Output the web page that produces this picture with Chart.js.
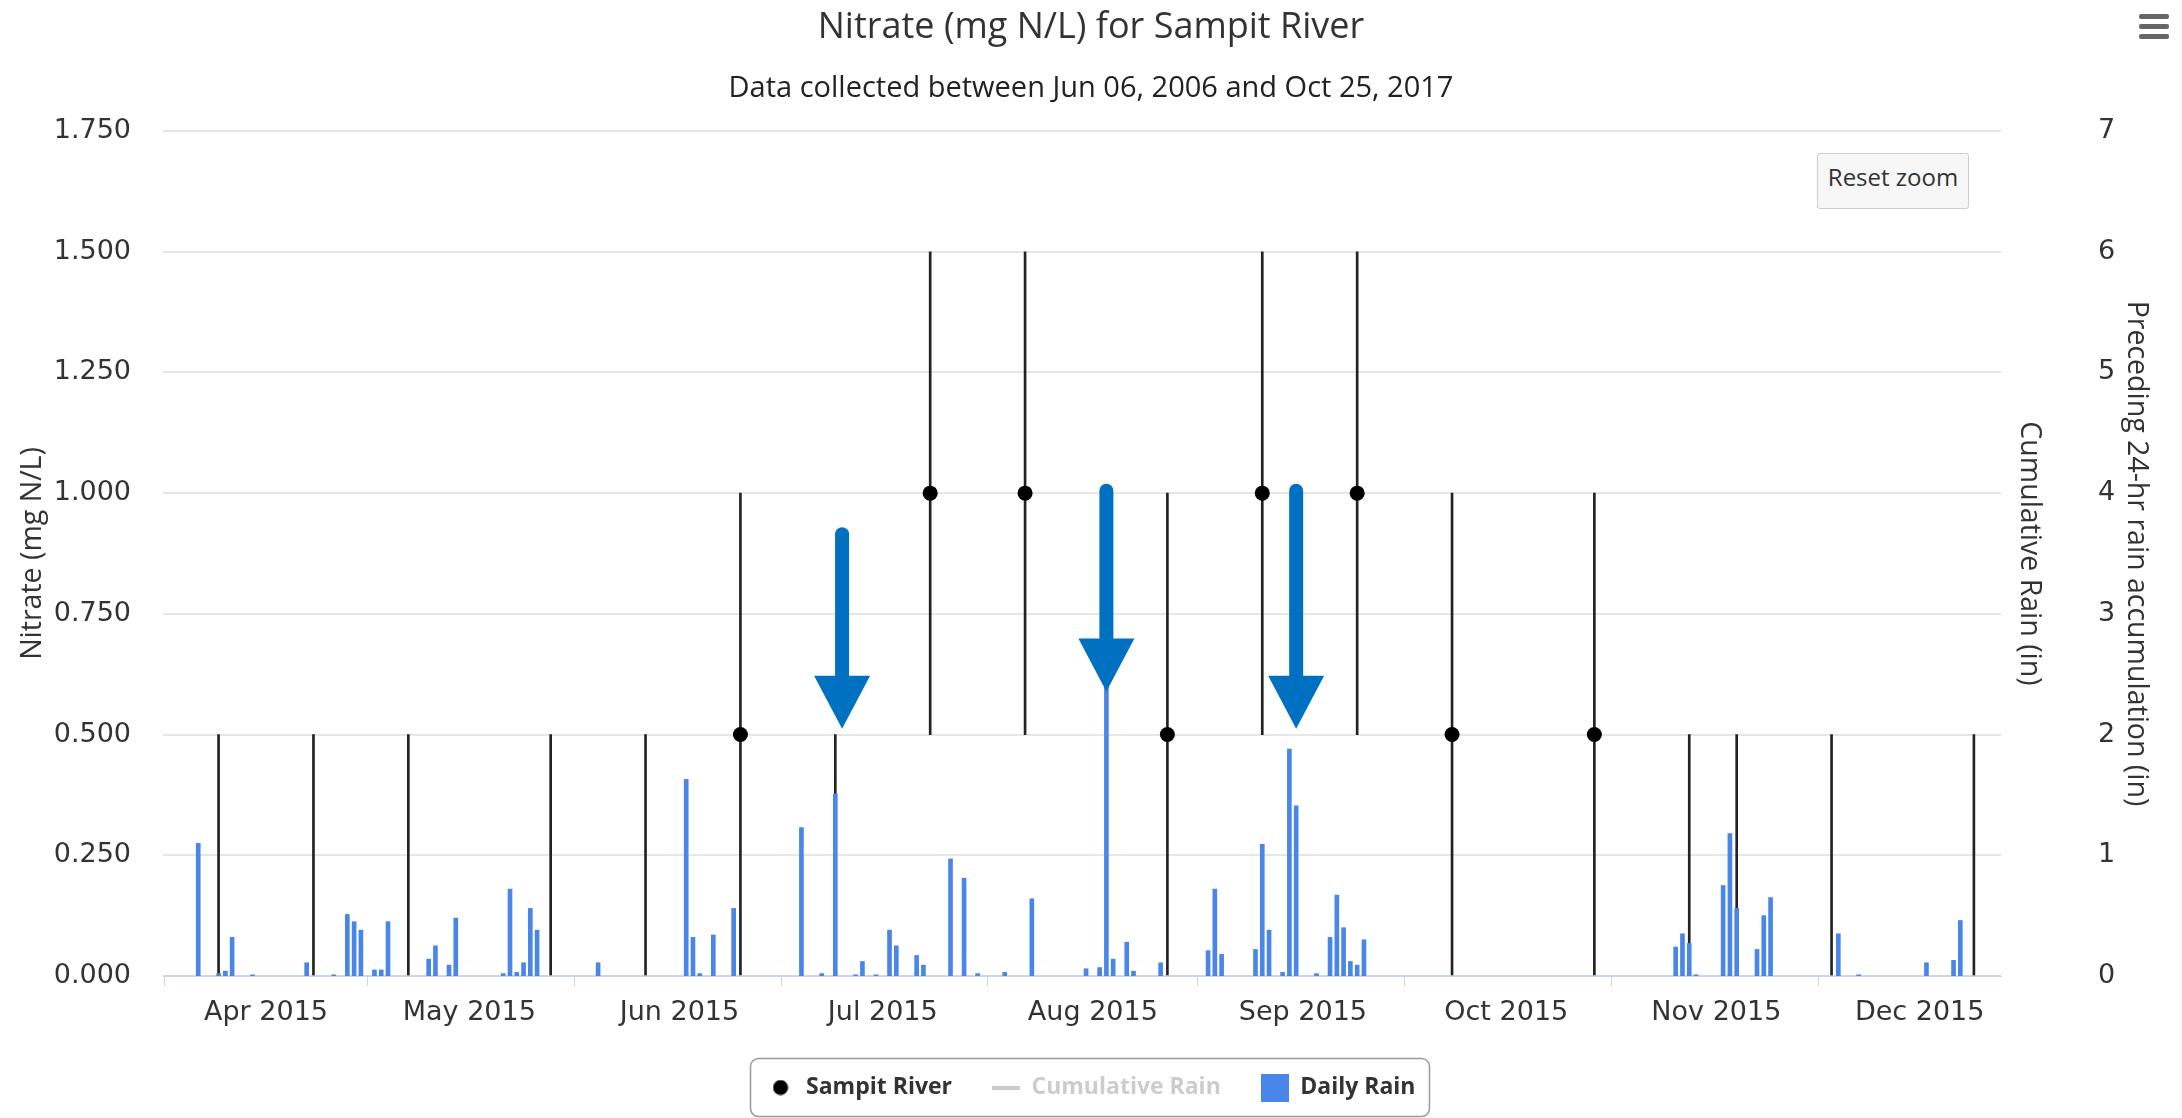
<!DOCTYPE html>
<html lang="en">
<head>
<meta charset="UTF-8">
<title>Nitrate (mg N/L) for Sampit River</title>
<script src="https://cdn.jsdelivr.net/npm/chart.js"></script>
<style>
  html, body { margin: 0; padding: 0; background: #fff; }
  .wrap { position: relative; width: 2182px; height: 1118px; }
  .reset {
    position: absolute; left: 1817px; top: 153px; width: 150px; height: 54px;
    background: #f7f7f7; border: 1px solid #cccccc; border-radius: 3px;
    font: 24px "Open Sans", sans-serif; color: #333; line-height: 46px; text-align: center;
  }
  .menu { position: absolute; left: 2139px; top: 14px; width: 30px; }
  .menu span { display: block; height: 5px; margin-bottom: 5px; background: #666; border-radius: 2px; }
</style>
</head>
<body>
<div class="wrap">
  <canvas id="chart"></canvas>
  <div class="reset">Reset zoom</div>
  <div class="menu"><span></span><span></span><span></span></div>
</div>
<script>
// sampling dates (biweekly) and nitrate results
const sampleDates = ['2015-03-25', '2015-04-08', '2015-04-22', '2015-05-13', '2015-05-27', '2015-06-10',
  '2015-06-24', '2015-07-08', '2015-07-22', '2015-08-12', '2015-08-26', '2015-09-09', '2015-09-23',
  '2015-10-14', '2015-10-28', '2015-11-04', '2015-11-18', '2015-12-09'];
const nitrate = [null, null, null, null, null, 0.5, null, 1.0, 1.0, 0.5, 1.0, 1.0, 0.5, 0.5, null, null, null, null];
const nitrateLow = [0, 0, 0, 0, 0, 0, 0, 0.5, 0.5, 0, 0.5, 0.5, 0, 0, 0, 0, 0, 0];
const nitrateHigh = [0.5, 0.5, 0.5, 0.5, 0.5, 1.0, 0.5, 1.5, 1.5, 1.0, 1.5, 1.5, 1.0, 1.0, 0.5, 0.5, 0.5, 0.5];

// daily rain (in)
const rainDates = ['2015-03-22', '2015-03-25', '2015-03-26', '2015-03-27', '2015-03-30', '2015-04-07',
  '2015-04-11', '2015-04-13', '2015-04-14', '2015-04-15', '2015-04-17', '2015-04-18', '2015-04-19',
  '2015-04-25', '2015-04-26', '2015-04-28', '2015-04-29', '2015-05-06', '2015-05-07', '2015-05-08',
  '2015-05-09', '2015-05-10', '2015-05-11', '2015-05-20', '2015-06-02', '2015-06-03', '2015-06-04',
  '2015-06-06', '2015-06-09', '2015-06-19', '2015-06-22', '2015-06-24', '2015-06-27', '2015-06-28',
  '2015-06-30', '2015-07-02', '2015-07-03', '2015-07-06', '2015-07-07', '2015-07-11', '2015-07-13',
  '2015-07-15', '2015-07-19', '2015-07-23', '2015-07-31', '2015-08-02', '2015-08-03', '2015-08-04',
  '2015-08-06', '2015-08-07', '2015-08-11', '2015-08-18', '2015-08-19', '2015-08-20', '2015-08-25',
  '2015-08-26', '2015-08-27', '2015-08-29', '2015-08-30', '2015-08-31', '2015-09-03', '2015-09-05',
  '2015-09-06', '2015-09-07', '2015-09-08', '2015-09-09', '2015-09-10', '2015-10-26', '2015-10-27',
  '2015-10-28', '2015-10-29', '2015-11-02', '2015-11-03', '2015-11-04', '2015-11-07', '2015-11-08',
  '2015-11-09', '2015-11-19', '2015-11-22', '2015-12-02', '2015-12-06', '2015-12-07'];
const rainInches = [1.10, 0.02, 0.04, 0.32, 0.01, 0.11,
  0.01, 0.51, 0.45, 0.38, 0.05, 0.05, 0.45,
  0.14, 0.25, 0.09, 0.48, 0.02, 0.72, 0.03,
  0.11, 0.56, 0.38, 0.11, 1.63, 0.32, 0.02,
  0.34, 0.56, 1.23, 0.02, 1.51, 0.01, 0.12,
  0.01, 0.38, 0.25, 0.17, 0.09, 0.97, 0.81,
  0.02, 0.03, 0.64, 0.06, 0.07, 2.45, 0.14,
  0.28, 0.04, 0.11, 0.21, 0.72, 0.18, 0.22,
  1.09, 0.38, 0.03, 1.88, 1.41, 0.02, 0.32,
  0.67, 0.40, 0.12, 0.09, 0.30, 0.24, 0.35,
  0.27, 0.01, 0.75, 1.18, 0.56, 0.22, 0.50,
  0.65, 0.35, 0.01, 0.11, 0.13, 0.46];

const monthTicks = ['2015-04-01', '2015-05-01', '2015-06-01', '2015-07-01', '2015-08-01',
  '2015-09-01', '2015-10-01', '2015-11-01', '2015-12-01'];
const monthLabels = ['Apr 2015', 'May 2015', 'Jun 2015', 'Jul 2015', 'Aug 2015',
  'Sep 2015', 'Oct 2015', 'Nov 2015', 'Dec 2015'];

// highlight arrows (mg N/L)
const arrowDates = ['2015-06-25', '2015-08-03', '2015-08-31'];
const arrowFrom = [0.915, 1.005, 1.005];
const arrowTo = [0.512, 0.589, 0.512];

// days since Apr 1 2015 (no date adapter offline)
const BASE = Date.UTC(2015, 3, 1);
function dayOf(s) {
  const p = s.split('-').map(Number);
  return (Date.UTC(p[0], p[1] - 1, p[2]) - BASE) / 86400000;
}

function icon(kind) {
  const c = document.createElement('canvas');
  const g = c.getContext('2d');
  if (kind === 'dot') {
    c.width = 16; c.height = 16;
    g.fillStyle = '#000';
    g.beginPath(); g.arc(8, 8, 7.5, 0, Math.PI * 2); g.fill();
  } else if (kind === 'line') {
    c.width = 28; c.height = 4;
    g.fillStyle = '#cccccc'; g.fillRect(0, 0, 28, 4);
  } else {
    c.width = 28; c.height = 28;
    g.fillStyle = '#4a86e8'; g.fillRect(0, 0, 28, 28);
  }
  return c;
}

const arrowPlugin = {
  id: 'arrows',
  afterDatasetsDraw(chart) {
    const ctx = chart.ctx, x = chart.scales.x, y = chart.scales.yNit;
    ctx.save();
    ctx.fillStyle = '#0070c0';
    ctx.strokeStyle = '#0070c0';
    arrowDates.forEach((d, i) => {
      const px = x.getPixelForValue(dayOf(d));
      const top = y.getPixelForValue(arrowFrom[i]);
      const tip = y.getPixelForValue(arrowTo[i]);
      ctx.lineWidth = 14;
      ctx.lineCap = 'round';
      ctx.beginPath();
      ctx.moveTo(px, top);
      ctx.lineTo(px, tip - 48);
      ctx.stroke();
      ctx.beginPath();
      ctx.moveTo(px - 28, tip - 53);
      ctx.lineTo(px + 28, tip - 53);
      ctx.lineTo(px, tip);
      ctx.closePath();
      ctx.fill();
    });
    ctx.restore();
  }
};

const legendBox = {
  id: 'legendBox',
  afterDraw(chart) {
    const boxes = chart.legend.legendHitBoxes;
    if (!boxes || !boxes.length) return;
    const ctx = chart.ctx;
    const l = Math.min(...boxes.map(b => b.left)) - 16;
    const r = Math.max(...boxes.map(b => b.left + b.width)) + 14;
    const cy = boxes[0].top + boxes[0].height / 2;
    ctx.save();
    ctx.strokeStyle = '#999';
    ctx.lineWidth = 1.5;
    ctx.beginPath();
    ctx.roundRect(l, cy - 29, r - l, 58, 8);
    ctx.stroke();
    ctx.restore();
  }
};

const tickFont = { family: 'DejaVu Sans', size: 27 };
const titleFont = { family: 'Open Sans', size: 28.5 };

new Chart(document.getElementById('chart'), {
  type: 'bar',
  data: {
    datasets: [
      {
        type: 'line',
        label: 'Sampit River',
        data: sampleDates.map((d, i) => ({ x: dayOf(d), y: nitrate[i] })),
        yAxisID: 'yNit',
        showLine: false,
        pointRadius: 7.5,
        pointBackgroundColor: '#000',
        pointBorderWidth: 0,
        order: 0
      },
      {
        type: 'line',
        label: 'Cumulative Rain',
        data: [],
        yAxisID: 'yCum',
        hidden: true,
        borderColor: '#cccccc',
        order: 2
      },
      {
        label: 'Daily Rain',
        data: rainDates.map((d, i) => ({ x: dayOf(d), y: rainInches[i] })),
        yAxisID: 'yRain',
        backgroundColor: '#4a86e8',
        barThickness: 4,
        grouped: false,
        order: 1
      },
      {
        label: 'range',
        data: sampleDates.map((d, i) => ({ x: dayOf(d), y: [nitrateLow[i], nitrateHigh[i]] })),
        yAxisID: 'yNit',
        backgroundColor: '#222',
        barThickness: 2,
        grouped: false,
        order: 3
      }
    ]
  },
  options: {
    responsive: true,
    maintainAspectRatio: false,
    animation: false,
    layout: { padding: { left: 0, right: 0, top: 0, bottom: 9 } },
    plugins: {
      tooltip: { enabled: false },
      title: {
        display: true,
        text: 'Nitrate (mg N/L) for Sampit River',
        color: '#333',
        font: { family: 'Open Sans', size: 36, weight: 'normal' },
        padding: { top: 6, bottom: 22 }
      },
      subtitle: {
        display: true,
        text: 'Data collected between Jun 06, 2006 and Oct 25, 2017',
        color: '#222',
        font: { family: 'Open Sans', size: 29 },
        padding: { top: 0, bottom: 25 }
      },
      legend: {
        position: 'bottom',
        onClick: null,
        labels: {
          usePointStyle: true,
          pointStyleWidth: 28,
          padding: 40,
          font: { family: 'Open Sans', size: 23, weight: 'bold' },
          generateLabels: () => [
            { text: 'Sampit River', pointStyle: icon('dot'), fontColor: '#333', datasetIndex: 0, hidden: false },
            { text: 'Cumulative Rain', pointStyle: icon('line'), fontColor: '#cccccc', datasetIndex: 1, hidden: false },
            { text: 'Daily Rain', pointStyle: icon('square'), fontColor: '#333', datasetIndex: 2, hidden: false }
          ]
        }
      }
    },
    scales: {
      x: {
        type: 'linear',
        min: -15.2,
        max: 256,
        offset: false,
        afterBuildTicks: s => { s.ticks = monthTicks.map(d => ({ value: dayOf(d) })); },
        afterFit: s => { s.height = 60; },
        ticks: {
          autoSkip: false,
          maxRotation: 0,
          padding: 11,
          color: '#333',
          font: tickFont,
          callback: (v, i) => monthLabels[i]
        },
        grid: { drawOnChartArea: false, drawTicks: true, tickLength: 10, color: '#ccd6eb' },
        border: { display: true, color: '#ccd6eb', width: 1 }
      },
      yNit: {
        position: 'left',
        min: 0,
        max: 1.75,
        afterFit: s => { s.width = 163; },
        ticks: { stepSize: 0.25, padding: 32, color: '#333', font: tickFont, callback: v => v.toFixed(3) },
        grid: { drawTicks: false, lineWidth: 2, color: c => (c.tick && c.tick.value === 0 ? '#ccd6eb' : '#e6e6e6') },
        border: { display: false },
        title: { display: true, text: 'Nitrate (mg N/L)', color: '#333', font: titleFont, padding: { top: 16, bottom: 0 } }
      },
      yCum: {
        position: 'right',
        weight: 1,
        display: true,
        min: 0,
        max: 7,
        afterFit: s => { s.width = 45; },
        ticks: { display: false },
        grid: { display: false, drawTicks: false },
        border: { display: false },
        title: { display: true, text: 'Cumulative Rain (in)', color: '#333', font: titleFont, padding: { top: 0, bottom: 0 } }
      },
      yRain: {
        position: 'right',
        weight: 2,
        min: 0,
        max: 7,
        afterFit: s => { s.width = 136; },
        ticks: { stepSize: 1, padding: 52, color: '#333', font: tickFont },
        grid: { display: false, drawTicks: false },
        border: { display: false },
        title: { display: true, text: 'Preceding 24-hr rain accumulation (in)', color: '#333', font: titleFont, padding: { top: 29, bottom: 0 } }
      }
    }
  },
  plugins: [arrowPlugin, legendBox]
});
</script>
</body>
</html>
